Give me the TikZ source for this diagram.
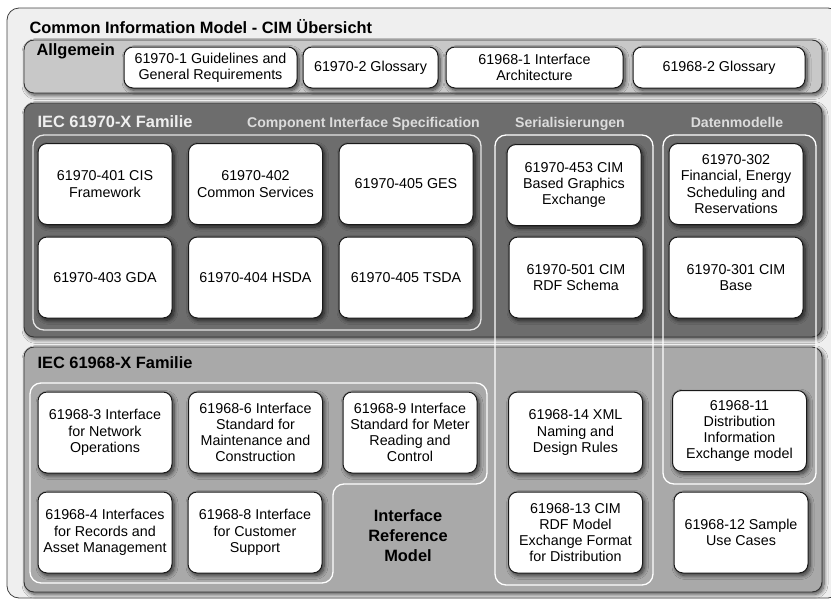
\documentclass[tikz,border=0pt]{standalone}
\usepackage{fontspec}
\setmainfont{Liberation Sans}
\usetikzlibrary{shadows.blur}
\definecolor{framegray}{HTML}{EFEFEF}
\definecolor{allggray}{HTML}{C8C8C8}
\definecolor{cimgray}{HTML}{6D6D6D}
\definecolor{dmsgray}{HTML}{A9A9A9}
\definecolor{headgray}{HTML}{DCDCDC}
\begin{document}
\begin{tikzpicture}[x=1pt,y=-1pt,line join=round,
  shade/.style={blur shadow={shadow xshift=2pt,shadow yshift=-2.5pt,shadow blur steps=8,shadow blur radius=4pt,shadow opacity=70}},
  panel/.style={draw=black!80,line width=0.9,rounded corners=10,inner sep=0pt,minimum width=798,shade},
  doc/.style={draw=black!90,fill=white,line width=1,rounded corners=9,inner sep=1pt,
    minimum width=134,minimum height=81,align=center,font=\fontsize{14.3}{16.2}\selectfont,shade},
  gendoc/.style={doc,minimum height=41},
  head/.style={anchor=base west,font=\fontsize{16.4}{18}\selectfont\bfseries},
  subhead/.style={anchor=base,text=headgray,font=\fontsize{14.1}{16}\selectfont\bfseries},
  group/.style={draw=white,line width=1.3,rounded corners=11}]
  \useasboundingbox (0,0) rectangle (831,600);
  % frame and the three panels
  \node[draw=black!75,fill=framegray,line width=0.8,rounded corners=12,inner sep=0pt,
    minimum width=833,minimum height=590] (FRAME) at (423.5,303) {};
  \node[head] (TITLE) at (26,33) {Common Information Model - CIM Übersicht};
  \node[panel,fill=allggray,minimum height=53] (ALG) at (423,66.5) {};
  \node[panel,fill=cimgray,minimum height=234] (CIM) at (423,220) {};
  \node[panel,fill=dmsgray,minimum height=245] (DMS) at (423,469.5) {};
  \node[head] (ALGhead) at (33,55) {Allgemein};
  \node[head,text=framegray] (CIMhead) at (34,127) {IEC 61970-X Familie};
  \node[head] (DMShead) at (34,368) {IEC 61968-X Familie};
  \node[subhead] (CIShead) at (363.5,127) {Component Interface Specification};
  \node[subhead] (SERhead) at (570,127) {Serialisierungen};
  \node[subhead] (DMhead) at (737,127) {Datenmodelle};
  % group outlines
  \draw[group,draw=white!90!black] (33,135) rectangle (481,330);
  \draw[group] (495,135) rectangle (653,585);
  \draw[group] (663,135) rectangle (816,484);
  \draw[group] (30,383) -- (487,383) -- (487,484) -- (333,484) -- (333,583) -- (30,583) -- cycle;
  \node[align=center,font=\fontsize{16.4}{20}\selectfont\bfseries] (IRM) at (408,536)
    {Interface\\Reference\\Model};
  % Allgemein
  \node[gendoc,minimum width=173] (G1) at (210.5,67.5) {61970-1 Guidelines and\\General Requirements};
  \node[gendoc,minimum width=135] (G2) at (370.5,67.5) {61970-2 Glossary};
  \node[gendoc,minimum width=177] (G3) at (534.5,67.5) {61968-1 Interface\\Architecture};
  \node[gendoc,minimum width=172] (G4) at (719,67.5) {61968-2 Glossary};
  % IEC 61970
  \node[doc] (C401) at (105,184) {61970-401 CIS\\Framework};
  \node[doc] (C402) at (255.5,184) {61970-402\\Common Services};
  \node[doc] (C405g) at (406,184) {61970-405 GES};
  \node[doc] (C403) at (105,277.5) {61970-403 GDA};
  \node[doc] (C404) at (255.5,277.5) {61970-404 HSDA};
  \node[doc] (C405t) at (406,277.5) {61970-405 TSDA};
  \node[doc] (S453) at (574,185) {61970-453 CIM\\Based Graphics\\Exchange};
  \node[doc] (S501) at (576,277.5) {61970-501 CIM\\RDF Schema};
  \node[doc] (D302) at (736,184) {61970-302\\Financial, Energy\\Scheduling and\\Reservations};
  \node[doc] (D301) at (736,277.5) {61970-301 CIM\\Base};
  % IEC 61968
  \node[doc] (R3) at (105,432.5) {61968-3 Interface\\for Network\\Operations};
  \node[doc] (R6) at (255.5,432.5) {61968-6 Interface\\Standard for\\Maintenance and\\Construction};
  \node[doc] (R9) at (410,432.5) {61968-9 Interface\\Standard for Meter\\Reading and\\Control};
  \node[doc] (R4) at (105,532.5) {61968-4 Interfaces\\for Records and\\Asset Management};
  \node[doc] (R8) at (255,532.5) {61968-8 Interface\\for Customer\\Support};
  \node[doc] (S14) at (575.5,432.5) {61968-14 XML\\Naming and\\Design Rules};
  \node[doc] (S13) at (575.5,532.5) {61968-13 CIM\\RDF Model\\Exchange Format\\for Distribution};
  \node[doc] (D11) at (739.5,431) {61968-11\\Distribution\\Information\\Exchange model};
  \node[doc] (D12) at (741,532.5) {61968-12 Sample\\Use Cases};
\end{tikzpicture}
\end{document}
